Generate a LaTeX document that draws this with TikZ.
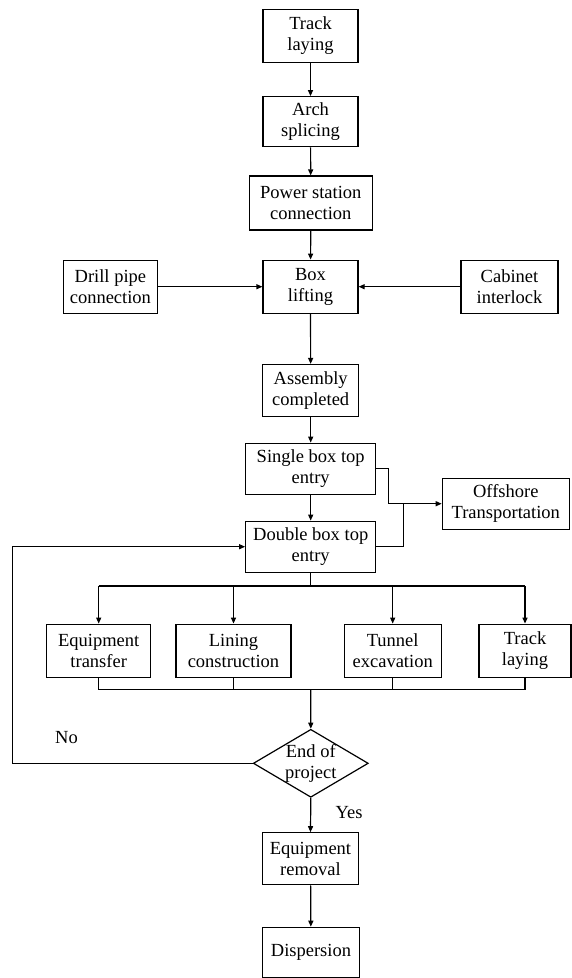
\documentclass[tikz,border=0pt]{standalone}
\usepackage{fontspec}
\setmainfont{Liberation Serif}
\usetikzlibrary{arrows.meta,shapes.geometric}
\begin{document}
\begin{tikzpicture}[x=1pt,y=-1pt,
  every node/.style={font=\fontsize{18.5}{21}\selectfont, align=center},
  box/.style={draw, line width=1.2pt, inner sep=0pt, minimum height=52pt},
  line/.style={line width=1.2pt},
  arr/.style={line width=1.2pt, -{Triangle[length=6pt,width=5pt]}}]
\useasboundingbox (0,0) rectangle (572,978);
% main column
\node[box, minimum width=95pt, minimum height=53pt] (t1) at (310.5,35.7) {Track\\laying};
\node[box, minimum width=95pt, minimum height=50pt] (arch) at (310.5,121.7) {Arch\\splicing};
\node[box, minimum width=123pt, minimum height=54pt] (pow) at (310.8,203) {Power station\\connection};
\node[box, minimum width=95pt, minimum height=53pt] (lift) at (310.5,286.7) {Box\\lifting};
\node[box, minimum width=94pt, minimum height=53pt] (drill) at (110.4,286.7) {Drill pipe\\connection};
\node[box, minimum width=97pt, minimum height=53pt] (cab) at (509.5,286.7) {Cabinet\\interlock};
\node[box, minimum width=96pt] (asm) at (310.7,390.5) {Assembly\\completed};
\node[box, minimum width=130pt, minimum height=51pt] (single) at (310.7,468.7) {Single box top\\entry};
\node[box, minimum width=130pt, minimum height=51pt] (double) at (310.7,546.7) {Double box top\\entry};
\node[box, minimum width=127pt, minimum height=51pt] (off) at (505.8,503.7) {Offshore\\Transportation};
% branches
\node[box, minimum width=104pt, minimum height=53pt] (eq) at (98.7,650.7) {Equipment\\transfer};
\node[box, minimum width=115pt, minimum height=53pt] (lin) at (233.5,650.7) {Lining\\construction};
\node[box, minimum width=97pt, minimum height=53pt] (tun) at (392.7,650.7) {Tunnel\\excavation};
\node[box, minimum width=92pt, minimum height=53pt] (tl2) at (525,650.7) {Track\\laying};
% decision
\node[draw, diamond, line width=1.2pt, minimum width=115pt, minimum height=68pt, inner sep=0pt] (dec) at (310.8,763.3) {};
\node (dectext) at (dec.center) {End of\\project};
\node[box, minimum width=96pt] (rem) at (310.5,858.8) {Equipment\\removal};
\node[box, minimum width=97pt, minimum height=50pt] (disp) at (311,952.3) {Dispersion};
\node (no) at (66.5,738) {No};
\node (yes) at (349,812.7) {Yes};
% coordinates
\coordinate (s1) at (388.3,468.7);
\coordinate (s2) at (388.3,503.7);
\coordinate (d1) at (403.3,546.7);
\coordinate (d2) at (403.3,503.7);
\coordinate (split) at (310.7,586);
\coordinate (splL) at (98.7,586);
\coordinate (splR) at (525,586);
\coordinate (merge) at (310.7,689.3);
\coordinate (mrgL) at (98.7,689.3);
\coordinate (mrgR) at (525,689.3);
\coordinate (lp1) at (12.3,763.3);
\coordinate (lp2) at (12.3,546.7);
% connectors
\draw[arr] (t1) -- (arch);
\draw[arr] (arch) -- (pow);
\draw[arr] (pow) -- (lift);
\draw[arr] (drill) -- (lift);
\draw[arr] (cab) -- (lift);
\draw[arr] (lift) -- (asm);
\draw[arr] (asm) -- (single);
\draw[arr] (single) -- (double);
\draw[line] (single.east) -- (s1) -- (s2);
\draw[arr] (s2) -- (off.west);
\draw[line] (double.east) -- (d1) -- (d2);
\draw[line] (double.south) -- (split);
\draw[line] (splL) -- (splR);
\draw[arr] (splL) -- (eq.north);
\draw[arr] (lin.north |- splL) -- (lin.north);
\draw[arr] (tun.north |- splL) -- (tun.north);
\draw[arr] (splR) -- (tl2.north);
\draw[line] (eq.south) -- (mrgL) -- (mrgR) -- (tl2.south);
\draw[line] (lin.south) -- (lin.south |- mrgL);
\draw[line] (tun.south) -- (tun.south |- mrgL);
\draw[arr] (merge) -- (dec.north);
\draw[line] (dec.west) -- (lp1) -- (lp2);
\draw[arr] (lp2) -- (double.west);
\draw[arr] (dec.south) -- (rem.north);
\draw[arr] (rem) -- (disp);
\end{tikzpicture}
\end{document}
